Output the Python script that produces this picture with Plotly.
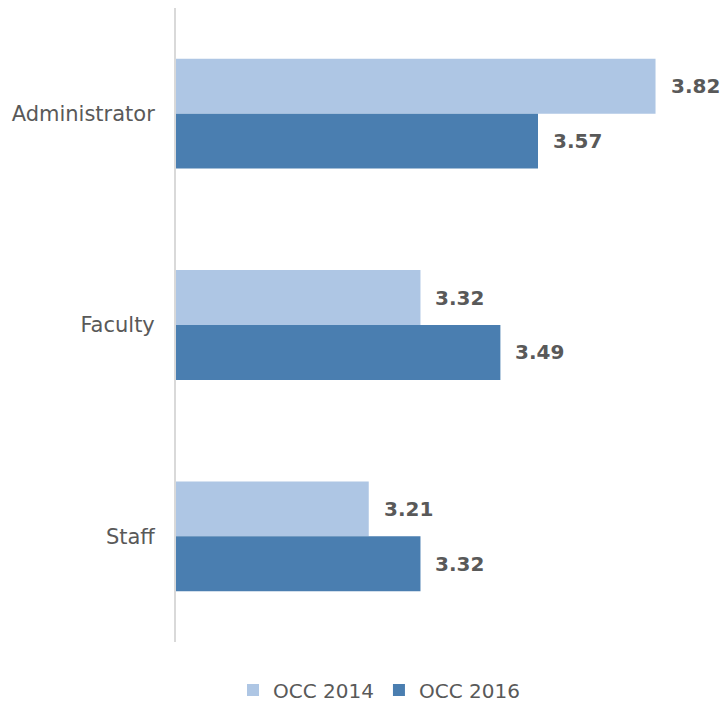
import plotly.graph_objects as go

categories = ["Administrator", "Faculty", "Staff"]
occ_2014 = [3.82, 3.32, 3.21]
occ_2016 = [3.57, 3.49, 3.32]
series_names = ["OCC 2014", "OCC 2016"]
colors = ["#AEC6E4", "#4A7EB0"]

fig = go.Figure()
for name, vals, col in zip(series_names, [occ_2014, occ_2016], colors):
    fig.add_trace(go.Bar(
        y=categories, x=vals, name=name, orientation="h",
        marker=dict(color=col, line=dict(width=0)),
        base=0,
    ))

# value labels
offsets = [-0.13, 0.13]
for vals, off in zip([occ_2014, occ_2016], offsets):
    for i, v in enumerate(vals):
        fig.add_annotation(
            x=v, y=i + off, xref="x", yref="y",
            text=f"<b>{v:.2f}</b>", showarrow=False,
            xanchor="left", xshift=13,
            font=dict(family="DejaVu Sans", size=20, color="#595959"),
        )

fig.update_layout(
    width=726, height=703,
    margin=dict(l=176, r=7, t=8, b=61),
    paper_bgcolor="white", plot_bgcolor="white",
    barmode="group", bargap=0.48, bargroupgap=0,
    font=dict(family="DejaVu Sans", color="#595959"),
    showlegend=True,
    legend=dict(orientation="h", x=0.105, xanchor="left",
                yref="container", y=0.0185, yanchor="middle",
                font=dict(size=20, color="#595959"), itemwidth=30,
                traceorder="normal"),
)
fig.update_xaxes(range=[2.8, 3.955], visible=False, showgrid=False)
fig.update_yaxes(
    type="category", categoryorder="array", categoryarray=categories,
    autorange="reversed", showgrid=False, showline=True, automargin=False,
    linecolor="#D9D9D9", linewidth=2, ticks="", ticklabelstandoff=15,
    tickfont=dict(size=21, color="#595959"),
)
fig.write_html("out.html", config={"displayModeBar": False},
               post_script="document.body.style.margin='0';document.body.style.overflow='hidden';")
